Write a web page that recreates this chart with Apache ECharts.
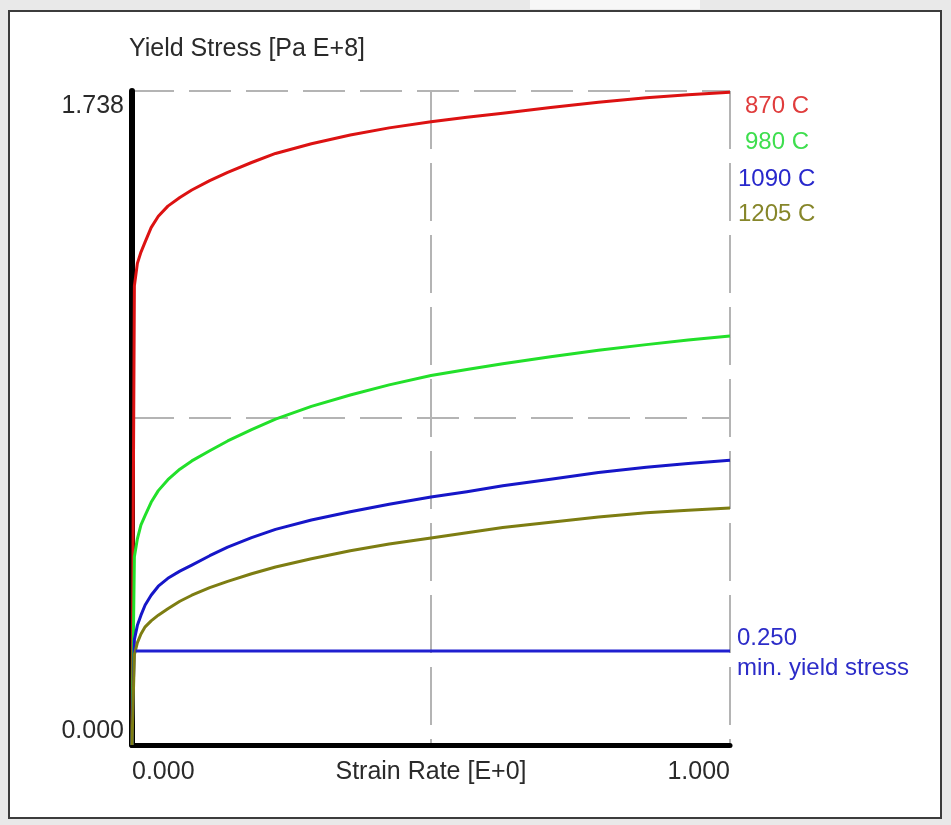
<!DOCTYPE html>
<html>
<head>
<meta charset="utf-8">
<script src="https://cdn.jsdelivr.net/npm/echarts@6/dist/echarts.min.js"></script>
<style>html,body{margin:0;padding:0;background:#e9e9e9;}#c{width:951px;height:825px;}</style>
</head>
<body>
<div id="c"></div>
<script>
// Strain rate samples [E+0]
var strainRate = [0, 0.004, 0.009, 0.015, 0.022, 0.032, 0.044, 0.06, 0.08, 0.1, 0.13, 0.16, 0.2, 0.24, 0.3, 0.365, 0.43, 0.5, 0.56, 0.62, 0.7, 0.78, 0.86, 0.93, 1.0];
// Yield stress [Pa E+8] per temperature
var s870  = [0, 1.22, 1.28, 1.31, 1.337, 1.375, 1.405, 1.432, 1.455, 1.475, 1.50, 1.522, 1.548, 1.572, 1.598, 1.621, 1.64, 1.656, 1.668, 1.679, 1.694, 1.708, 1.72, 1.728, 1.735];
var s980  = [0, 0.50, 0.548, 0.585, 0.61, 0.645, 0.676, 0.705, 0.733, 0.755, 0.782, 0.808, 0.838, 0.866, 0.90, 0.93, 0.957, 0.982, 0.998, 1.013, 1.032, 1.049, 1.064, 1.076, 1.087];
var s1090 = [0, 0.28, 0.318, 0.345, 0.372, 0.398, 0.422, 0.443, 0.462, 0.478, 0.503, 0.526, 0.551, 0.573, 0.598, 0.62, 0.64, 0.659, 0.673, 0.689, 0.706, 0.724, 0.738, 0.748, 0.757];
var s1205 = [0, 0.24, 0.272, 0.295, 0.314, 0.33, 0.345, 0.362, 0.382, 0.398, 0.418, 0.435, 0.455, 0.473, 0.495, 0.516, 0.534, 0.55, 0.564, 0.578, 0.592, 0.606, 0.617, 0.624, 0.630];
var minYield = 0.250;
var minYieldX = [0.006, 1.0];
var seriesNames = ['870 C', '980 C', '1090 C', '1205 C'];
var yMax = 1.738;
var xTickLabels = ['0.000', '1.000'];
var yTickLabels = ['0.000', '1.738'];

var FONT = "'Liberation Sans', Arial, sans-serif";
var FS = 25;
var LFS = 24;

function pairs(xs, ys) { return xs.map(function (x, i) { return [x, ys[i]]; }); }

var colors = ['#dc1212', '#22e02a', '#1616c8', '#7d7d12'];
var labelColors = ['#e03c3c', '#3ede4e', '#2828cc', '#86862a'];
var seriesData = [s870, s980, s1090, s1205];

var series = seriesData.map(function (d, i) {
  return {
    name: seriesNames[i], type: 'line', data: pairs(strainRate, d),
    showSymbol: false, smooth: false,
    lineStyle: { color: colors[i], width: 3, join: 'round' }, z: 3 + i
  };
});
series.push({
  name: 'min. yield stress', type: 'line',
  data: minYieldX.map(function (x) { return [x, minYield]; }),
  showSymbol: false, lineStyle: { color: '#2020d0', width: 3 }, z: 8
});

var chart = echarts.init(document.getElementById('c'));
chart.setOption({
  backgroundColor: '#e9e9e9',
  animation: false,
  textStyle: { fontFamily: FONT },
  grid: { left: 132, right: 221, top: 91, bottom: 80, containLabel: false },
  xAxis: {
    type: 'value', min: 0, max: 1, interval: 0.5,
    name: 'Strain Rate [E+0]', nameLocation: 'middle', nameGap: 15, nameMoveOverlap: false,
    nameTextStyle: { color: '#2a2a2a', fontSize: FS, fontFamily: FONT, verticalAlign: 'top' },
    axisLine: { show: true, lineStyle: { color: '#000', width: 5 } },
    axisTick: { show: false },
    axisLabel: {
      color: '#2a2a2a', fontSize: FS, fontFamily: FONT, margin: 15,
      alignMinLabel: 'left', alignMaxLabel: 'right',
      formatter: function (v) { return v === 0 ? xTickLabels[0] : (v === 1 ? xTickLabels[1] : ''); }
    },
    splitLine: { show: true, lineStyle: { color: '#b4b4b4', width: 2, type: [58, 14] } }
  },
  yAxis: {
    type: 'value', min: 0, max: yMax, interval: yMax / 2,
    name: 'Yield Stress [Pa E+8]', nameLocation: 'end', nameGap: 29,
    nameTextStyle: { color: '#2a2a2a', fontSize: FS, fontFamily: FONT, align: 'left', padding: [0, 0, 0, -3] },
    axisLine: { show: true, lineStyle: { color: '#000', width: 6 } },
    axisTick: { show: false },
    axisLabel: {
      color: '#2a2a2a', fontSize: FS, fontFamily: FONT, margin: 8,
      formatter: function (v) {
        if (v === 0) return '{b|' + yTickLabels[0] + '}';
        if (v > yMax - 0.01) return '{t|' + yTickLabels[1] + '}';
        return '';
      },
      rich: {
        t: { fontSize: FS, fontFamily: FONT, color: '#2a2a2a', padding: [31, 0, 0, 0] },
        b: { fontSize: FS, fontFamily: FONT, color: '#2a2a2a', padding: [0, 0, 28, 0] }
      }
    },
    splitLine: { show: true, lineStyle: { color: '#b4b4b4', width: 2, type: [42, 15] } }
  },
  graphic: [
    { type: 'rect', z: -1, shape: { x: 530, y: 0, width: 170, height: 9 }, style: { fill: '#f7f7f7' } },
    { type: 'rect', z: -1, shape: { x: 9, y: 11, width: 932, height: 807 }, style: { fill: '#ffffff', stroke: '#3c3c3c', lineWidth: 2 } },
    { type: 'text', z: 10, left: 745, top: 94, style: { text: seriesNames[0], fill: labelColors[0], font: LFS + 'px ' + FONT } },
    { type: 'text', z: 10, left: 745, top: 130, style: { text: seriesNames[1], fill: labelColors[1], font: LFS + 'px ' + FONT } },
    { type: 'text', z: 10, left: 738, top: 167, style: { text: seriesNames[2], fill: labelColors[2], font: LFS + 'px ' + FONT } },
    { type: 'text', z: 10, left: 738, top: 202, style: { text: seriesNames[3], fill: labelColors[3], font: LFS + 'px ' + FONT } },
    { type: 'text', z: 10, left: 737, top: 626, style: { text: minYield.toFixed(3), fill: '#2c2cc8', font: LFS + 'px ' + FONT } },
    { type: 'text', z: 10, left: 737, top: 656, style: { text: 'min. yield stress', fill: '#2c2cc8', font: LFS + 'px ' + FONT } }
  ],
  series: series
});
</script>
</body>
</html>
